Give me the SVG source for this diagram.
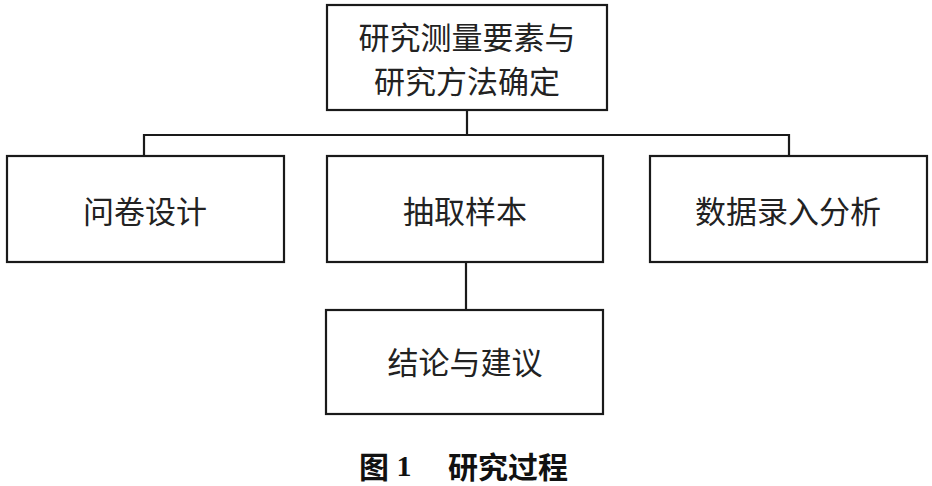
<svg xmlns="http://www.w3.org/2000/svg" width="932" height="486" viewBox="0 0 932 486">
<style>
.box{fill:#fff;stroke:#1a1a1a;stroke-width:2.2}
.lbl{font-family:"Noto Sans CJK SC","Noto Sans",sans-serif;font-size:31px;fill:#222;text-anchor:middle;dominant-baseline:central}
.conn{fill:none;stroke:#1a1a1a;stroke-width:2.2}
.cap{font-family:"Liberation Serif","Noto Sans CJK SC",sans-serif;font-size:30px;font-weight:bold;fill:#111;dominant-baseline:central}
</style>
<rect width="932" height="486" fill="#fff"/>
<g id="connectors">
<path class="conn" d="M467 110 V135 M144 156 V135 H789 V156 M466 262 V310"/>
</g>
<g id="n1"><rect class="box" x="327" y="5" width="280" height="105"/>
<text class="lbl" x="467" y="35">研究测量要素与</text>
<text class="lbl" x="467" y="79">研究方法确定</text></g>
<g id="n2"><rect class="box" x="7" y="156" width="277" height="106"/><text class="lbl" x="145" y="209">问卷设计</text></g>
<g id="n3"><rect class="box" x="327" y="156" width="276" height="106"/><text class="lbl" x="465" y="209">抽取样本</text></g>
<g id="n4"><rect class="box" x="650" y="156" width="277" height="106"/><text class="lbl" x="788" y="209">数据录入分析</text></g>
<g id="n5"><rect class="box" x="326" y="310" width="277" height="104"/><text class="lbl" x="465" y="360">结论与建议</text></g>
<text class="cap" x="359" y="465"><tspan font-family="Noto Sans CJK SC,sans-serif">图</tspan> 1<tspan x="448" font-family="Noto Sans CJK SC,sans-serif">研究过程</tspan></text>
</svg>
